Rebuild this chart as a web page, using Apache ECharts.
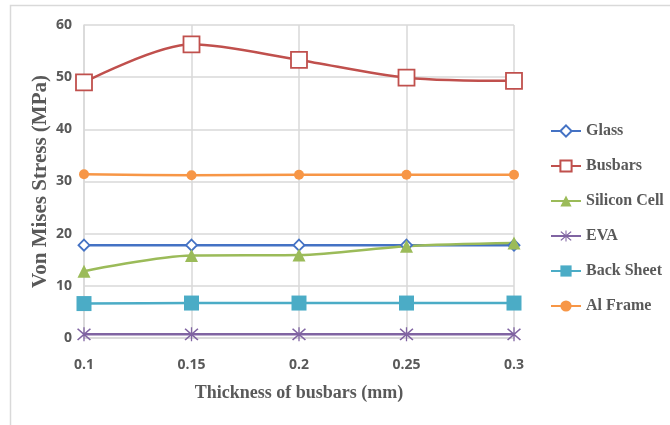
<!DOCTYPE html>
<html>
<head>
<meta charset="utf-8">
<script src="https://cdn.jsdelivr.net/npm/echarts@6/dist/echarts.min.js"></script>
<style>
  html, body { margin: 0; padding: 0; background: #fff; }
  #chart { width: 670px; height: 425px; }
</style>
</head>
<body>
<div id="chart"></div>
<script>
const thickness = ['0.1', '0.15', '0.2', '0.25', '0.3'];
const yTicks = [0, 10, 20, 30, 40, 50, 60];

const glass = [17.8, 17.8, 17.8, 17.8, 17.8];
const busbars = [49.0, 56.3, 53.3, 49.9, 49.3];
const siliconCell = [12.8, 15.8, 15.9, 17.6, 18.2];
const eva = [0.7, 0.7, 0.7, 0.7, 0.7];
const backSheet = [6.6, 6.7, 6.7, 6.7, 6.7];
const alFrame = [31.4, 31.2, 31.3, 31.3, 31.3];

// asterisk marker (x plus vertical bar)
const asterisk = 'path://M-0.8,-10L0.8,-10L0.8,10L-0.8,10Z' +
  'M-8.7,-7.3L-7.3,-8.7L8.7,7.3L7.3,8.7Z' +
  'M7.3,-8.7L8.7,-7.3L-7.3,8.7L-8.7,7.3Z';

const serif = '"Liberation Serif", "Times New Roman", serif';
const sans = '"Open Sans", "Noto Sans", sans-serif';

function line(name, data, color, symbol, size, hollow) {
  return {
    name: name,
    type: 'line',
    data: data,
    smooth: 0.3,
    symbol: symbol,
    symbolSize: size,
    showAllSymbol: true,
    lineStyle: {color: color, width: 2.5},
    itemStyle: {
      color: hollow ? '#fff' : color,
      borderColor: color,
      borderWidth: hollow ? 1.8 : 0
    },
    emphasis: {disabled: true}
  };
}

const chart = echarts.init(document.getElementById('chart'));
chart.setOption({
  animation: false,
  graphic: [{
    type: 'rect',
    shape: {x: 10.5, y: 5.5, width: 680, height: 440},
    style: {fill: 'none', stroke: '#d9d9d9', lineWidth: 1.5},
    silent: true
  }],
  grid: {left: 84, right: 156, top: 25, bottom: 87},
  legend: {
    orient: 'vertical',
    left: 545,
    top: 118,
    itemGap: 19,
    itemWidth: 30,
    itemHeight: 14,
    textStyle: {fontFamily: serif, fontWeight: 'bold', fontSize: 16, color: '#595959'},
    data: ['Glass', 'Busbars', 'Silicon Cell', 'EVA', 'Back Sheet', 'Al Frame']
  },
  xAxis: {
    type: 'category',
    data: thickness,
    boundaryGap: false,
    name: 'Thickness of busbars (mm)',
    nameLocation: 'middle',
    nameGap: 46,
    nameTextStyle: {fontFamily: serif, fontWeight: 'bold', fontSize: 18, color: '#595959'},
    axisLine: {lineStyle: {color: '#d9d9d9', width: 1.5}},
    axisTick: {show: false},
    axisLabel: {margin: 20, fontFamily: sans, fontWeight: 'bold', fontSize: 14, color: '#595959'},
    splitLine: {show: true, lineStyle: {color: '#d9d9d9', width: 1.5}}
  },
  yAxis: {
    type: 'value',
    min: yTicks[0],
    max: yTicks[yTicks.length - 1],
    interval: 10,
    name: 'Von Mises Stress (MPa)',
    nameLocation: 'middle',
    nameGap: 33,
    nameMoveOverlap: false,
    nameRotate: 90,
    nameTextStyle: {fontFamily: serif, fontWeight: 'bold', fontSize: 21, color: '#595959'},
    axisLine: {show: true, lineStyle: {color: '#d9d9d9', width: 1.5}},
    axisTick: {show: false},
    axisLabel: {margin: 12, fontFamily: sans, fontWeight: 'bold', fontSize: 14, color: '#595959'},
    splitLine: {lineStyle: {color: '#d9d9d9', width: 1.5}}
  },
  series: [
    line('Glass', glass, '#4472C4', 'diamond', 11, true),
    line('Busbars', busbars, '#C0504D', 'rect', 16, true),
    line('Silicon Cell', siliconCell, '#9BBB59', 'triangle', 13, false),
    line('EVA', eva, '#8064A2', asterisk, 14, false),
    line('Back Sheet', backSheet, '#4BACC6', 'rect', 15, false),
    line('Al Frame', alFrame, '#F79646', 'circle', 10, false)
  ]
});
</script>
</body>
</html>
